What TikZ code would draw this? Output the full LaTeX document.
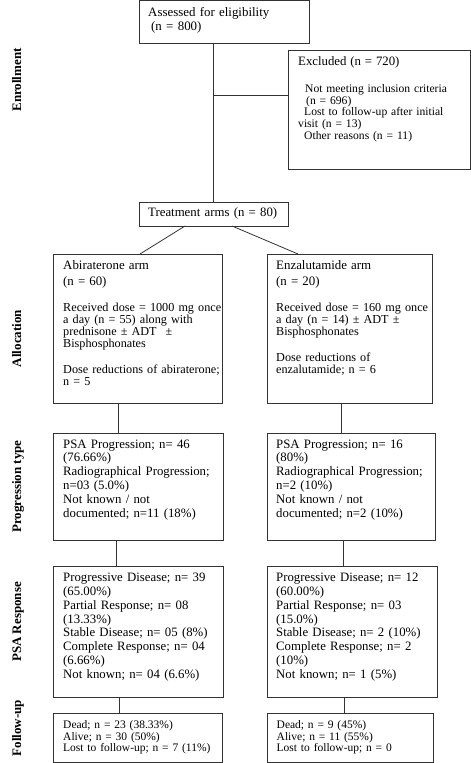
\documentclass[tikz,border=0pt]{standalone}
\usepackage{fontspec}
\setmainfont{Liberation Serif}
\usetikzlibrary{calc}
\begin{document}
\begin{tikzpicture}[x=1pt,y=-1pt,
 box/.style={draw=black!80, line width=0.8pt, anchor=north west, inner sep=0pt, outer sep=0pt},
 link/.style={draw=black!80, line width=0.8pt},
 txt/.style={anchor=base west, inner sep=0pt, text width=230pt, align=left},
 big/.style={txt, font=\fontsize{12.8}{13.8}\selectfont},
 mid/.style={txt, font=\fontsize{12.2}{12}\selectfont},
 small/.style={txt, font=\fontsize{11.6}{11.8}\selectfont},
 fu/.style={txt, font=\fontsize{11.5}{11.7}\selectfont},
 side/.style={rotate=90, anchor=base, inner sep=0pt, font=\bfseries\fontsize{13}{14}\selectfont}]
\useasboundingbox (0,0) rectangle (471,763);

% side labels
\node[side] (lenr) at (21,80) {Enrollment};
\node[side] (lall) at (21,338.5) {Allocation};
\node[side] (lprog) at (21,486.5) {Progression type};
\node[side] (lpsa) at (21,622) {PSA Response};
\node[side] (lfu) at (21,728) {Follow-up};

% boxes
\node[box, minimum width=170pt, minimum height=43pt] (assess) at (139,0.5) {};
\node[box, minimum width=182.5pt, minimum height=119pt] (excl) at (288,50) {};
\node[box, minimum width=149pt, minimum height=24pt] (treat) at (139,202) {};
\node[box, minimum width=169pt, minimum height=149pt] (abi) at (53,254) {};
\node[box, minimum width=165pt, minimum height=149pt] (enz) at (267,254) {};
\node[box, minimum width=170pt, minimum height=107pt] (progL) at (53,433) {};
\node[box, minimum width=168pt, minimum height=107pt] (progR) at (267,433) {};
\node[box, minimum width=170pt, minimum height=131pt] (psaL) at (53,566) {};
\node[box, minimum width=170pt, minimum height=131pt] (psaR) at (267,566) {};
\node[box, minimum width=169pt, minimum height=49pt] (fuL) at (53,713) {};
\node[box, minimum width=166pt, minimum height=49pt] (fuR) at (267,713) {};

% texts
\node[big, font=\fontsize{12.9}{14.7}\selectfont] (tassess) at (148,16) {Assessed for eligibility\\\hspace*{3pt}(n = 800)};
\node[small] (texcl) at (298,65) {{\fontsize{12.8}{11.8}\selectfont Excluded (n = 720)}\\[15.5pt]\hspace*{7pt}Not meeting inclusion criteria\\\hspace*{8pt}(n = 696)\\\hspace*{6pt}Lost to follow-up after initial\\visit (n = 13)\\\hspace*{6pt}Other reasons (n = 11)};
\node[big] (ttreat) at (148,216.5) {Treatment arms (n = 80)};
\node[mid] (tabi) at (63,269.3) {{\fontsize{12.9}{12}\selectfont Abiraterone arm\\[3.7pt](n = 60)}\\[14pt]Received dose = 1000 mg once\\a day (n = 55) along with\\prednisone ± ADT\hspace{9pt}±\\Bisphosphonates\\[14pt]Dose reductions of abiraterone;\\n = 5};
\node[mid] (tenz) at (276,269.3) {{\fontsize{12.9}{12}\selectfont Enzalutamide arm\\[3.7pt](n = 20)}\\[14pt]Received dose = 160 mg once\\a day (n = 14) ± ADT ±\\Bisphosphonates\\[14pt]Dose reductions of\\enzalutamide; n = 6};
\node[big] (tprogL) at (63,448) {PSA Progression; n= 46\\(76.66\%)\\Radiographical Progression;\\n=03 (5.0\%)\\Not known / not\\documented; n=11 (18\%)};
\node[big] (tprogR) at (276,448) {PSA Progression; n= 16\\(80\%)\\Radiographical Progression;\\n=2 (10\%)\\Not known / not\\documented; n=2 (10\%)};
\node[big] (tpsaL) at (63,581.7) {Progressive Disease; n= 39\\(65.00\%)\\Partial Response; n= 08\\(13.33\%)\\Stable Disease; n= 05 (8\%)\\Complete Response; n= 04\\(6.66\%)\\Not known; n= 04 (6.6\%)};
\node[big] (tpsaR) at (276,581.7) {Progressive Disease; n= 12\\(60.00\%)\\Partial Response; n= 03\\(15.0\%)\\Stable Disease; n= 2 (10\%)\\Complete Response; n= 2\\(10\%)\\Not known; n= 1 (5\%)};
\node[fu] (tfuL) at (63,728.3) {Dead; n = 23 (38.33\%)\\Alive; n = 30 (50\%)\\Lost to follow-up; n = 7 (11\%)};
\node[fu] (tfuR) at (276.5,728.3) {Dead; n = 9 (45\%)\\Alive; n = 11 (55\%)\\Lost to follow-up; n = 0};

% connectors
\coordinate (ex) at ($(excl.north west)+(0,45)$);
\draw[link] (treat.north |- assess.south) -- (treat.north);
\draw[link] (treat.north |- ex) -- (ex);
\draw[link] ($(treat.south west)+(46,0)$) -- ($(abi.north west)+(87,0)$);
\draw[link] ($(treat.south west)+(93,0)$) -- ($(enz.north west)+(31,0)$);
\draw[link] ($(abi.south west)+(65,0)$) -- ($(progL.north west)+(65,0)$);
\draw[link] ($(enz.south west)+(74,0)$) -- ($(progR.north west)+(74,0)$);
\draw[link] ($(progL.south west)+(63,0)$) -- ($(psaL.north west)+(63,0)$);
\draw[link] ($(progR.south west)+(76,0)$) -- ($(psaR.north west)+(76,0)$);
\draw[link] ($(psaL.south west)+(66,0)$) -- ($(fuL.north west)+(66,0)$);
\draw[link] ($(psaR.south west)+(77,0)$) -- ($(fuR.north west)+(77,0)$);
\end{tikzpicture}
\end{document}
